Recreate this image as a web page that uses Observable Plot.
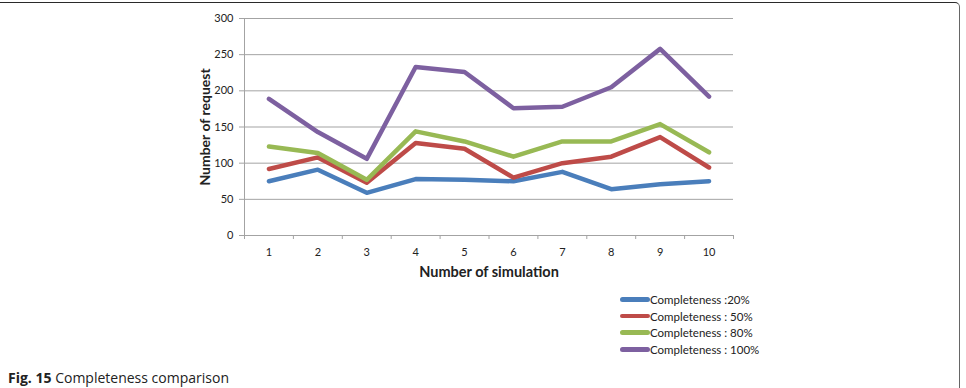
<!DOCTYPE html>
<html>
<head>
<meta charset="utf-8">
<script src="https://cdn.jsdelivr.net/npm/d3@7"></script>
<script src="https://cdn.jsdelivr.net/npm/@observablehq/plot@0.6"></script>
<style>
  html, body { margin: 0; padding: 0; background: #fff; }
  #wrap { position: relative; width: 966px; height: 388px; overflow: hidden; font-family: Lato, "Open Sans", sans-serif; }
  #frame { position: absolute; left: -10px; top: 2px; width: 970px; height: 420px;
           border-top: 1.5px solid #2a2a2a; border-right: 1.5px solid #666; border-top-right-radius: 5px; box-sizing: border-box; }
  #chart { position: absolute; left: 0; top: 0; }
  #legend { position: absolute; left: 620px; top: 291px; font-size: 11.5px; color: #222; font-family: Lato, sans-serif; }
  .row { display: flex; align-items: center; height: 16.7px; }
  .swatch { width: 30px; height: 4.5px; border-radius: 3px; }
  #caption { position: absolute; left: 8px; top: 368px; font-size: 14px; color: #222; font-family: "Open Sans", sans-serif; }
  #caption b { font-weight: 700; }
</style>
</head>
<body>
<div id="wrap">
  <div id="frame"></div>
  <div id="chart"></div>
  <div id="legend"></div>
  <div id="caption"><b>Fig. 15</b> Completeness comparison</div>
</div>
<script>
// Number of requests per simulation run, for each completeness level
const simulations = [1, 2, 3, 4, 5, 6, 7, 8, 9, 10];
const completeness20 = [75, 91, 59, 78, 77, 75, 88, 64, 71, 75];
const completeness50 = [92, 108, 73, 128, 120, 80, 100, 109, 136, 94];
const completeness80 = [123, 114, 77, 144, 130, 109, 130, 130, 154, 115];
const completeness100 = [189, 143, 106, 233, 226, 176, 178, 205, 258, 192];

const seriesNames = ["Completeness :20%", "Completeness : 50%", "Completeness : 80%", "Completeness : 100%"];
const seriesValues = [completeness20, completeness50, completeness80, completeness100];
const seriesColors = ["#4A7EBB", "#BE4B48", "#98B954", "#7D60A0"];
const yTicks = [0, 50, 100, 150, 200, 250, 300];

// long-format rows for the line mark
const rows = seriesNames.flatMap((name, i) =>
  simulations.map((s, j) => ({ series: name, simulation: s, requests: seriesValues[i][j] }))
);

// category boundaries where the x-axis tick marks sit
const boundaries = [simulations[0] - 0.5, ...simulations.map(s => s + 0.5)];

const chart = Plot.plot({
  width: 966,
  height: 290,
  marginLeft: 244,
  marginRight: 233,
  marginTop: 18,
  marginBottom: 55,
  style: { fontFamily: "Lato, 'Open Sans', sans-serif", fontSize: "11px", color: "#222", background: "transparent" },
  x: { domain: [boundaries[0], boundaries[boundaries.length - 1]] },
  y: { domain: [0, 300] },
  color: { domain: seriesNames, range: seriesColors },
  marks: [
    Plot.gridY({ ticks: yTicks, stroke: "#a3a3a3", strokeOpacity: 1 }),
    Plot.ruleY([0], { stroke: "#a3a3a3" }),
    Plot.ruleX([boundaries[0]], { stroke: "#a3a3a3" }),
    Plot.axisY({ ticks: yTicks, tickSize: 5, tickPadding: 6, stroke: "#a3a3a3", label: null }),
    Plot.axisX({ ticks: boundaries, tickSize: 4, tickFormat: () => "", stroke: "#a3a3a3", label: null }),
    Plot.axisX({ ticks: simulations, tickSize: 0, tickPadding: 13, label: null }),
    Plot.line(rows, {
      x: "simulation", y: "requests", z: "series", stroke: "series",
      strokeWidth: 4.5, strokeLinejoin: "round", strokeLinecap: "round"
    }),
    Plot.text(["Number of simulation"], {
      frameAnchor: "bottom", dy: 37, lineAnchor: "middle", textAnchor: "middle",
      fontWeight: "bold", fontSize: 14.5
    }),
    Plot.text(["Number of request"], {
      frameAnchor: "left", dx: -39, rotate: -90, lineAnchor: "middle", textAnchor: "middle",
      fontWeight: "bold", fontSize: 14
    })
  ]
});
document.getElementById("chart").appendChild(chart);

// legend: a short coloured stroke followed by the series name
const legend = d3.select("#legend");
seriesNames.forEach((name, i) => {
  const row = legend.append("div").attr("class", "row");
  row.append("div").attr("class", "swatch").style("background", seriesColors[i]);
  row.append("span").text(name);
});
</script>
</body>
</html>
